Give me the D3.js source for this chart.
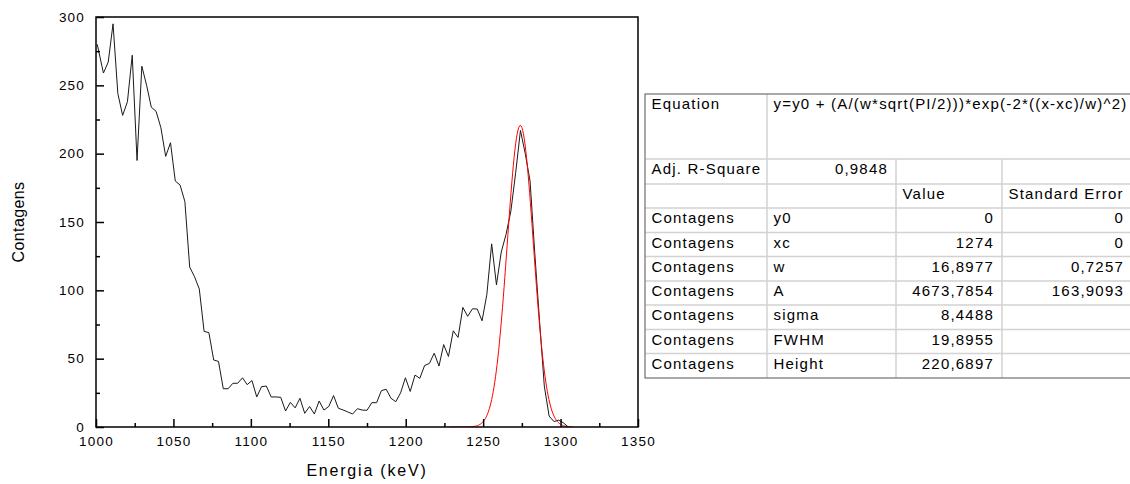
<!DOCTYPE html>
<html>
<head>
<meta charset="utf-8">
<script src="https://cdn.jsdelivr.net/npm/d3@7"></script>
<style>
  html, body { margin: 0; padding: 0; background: #fff; }
  svg { display: block; font-family: "Liberation Sans", Arial, sans-serif; }
</style>
</head>
<body>
<svg id="chart" width="1130" height="484"></svg>
<script>
// Gamma spectrum around the 1274 keV line, with its Gaussian fit
const energies = [
  1000.8, 1004.8, 1007.9, 1011.0, 1014.1, 1017.2, 1020.3, 1023.4, 1026.5, 1029.6,
  1032.7, 1035.7, 1038.8, 1041.9, 1045.0, 1048.1, 1051.2, 1054.3, 1057.4, 1060.5,
  1063.6, 1066.7, 1069.8, 1072.9, 1076.0, 1079.1, 1082.2, 1085.3, 1088.4, 1091.5,
  1094.6, 1097.6, 1100.7, 1103.8, 1106.9, 1110.0, 1113.1, 1116.2, 1119.3, 1122.4,
  1125.5, 1128.6, 1131.7, 1134.8, 1137.9, 1141.0, 1144.1, 1147.2, 1150.3, 1153.4,
  1156.5, 1159.5, 1162.6, 1165.7, 1168.8, 1171.9, 1175.0, 1178.1, 1181.2, 1184.3,
  1187.4, 1190.5, 1193.6, 1196.7, 1199.8, 1202.9, 1206.0, 1209.1, 1212.2, 1215.3,
  1218.4, 1221.5, 1224.5, 1227.6, 1230.7, 1233.8, 1236.9, 1240.0, 1243.1, 1246.2,
  1249.3, 1252.4, 1255.5, 1258.6, 1261.7, 1264.8, 1267.9, 1271.0, 1274.1, 1277.2,
  1280.3, 1283.3, 1286.4, 1289.5, 1292.6, 1295.7, 1298.8, 1301.9, 1305.0
];
const counts = [
  280, 259, 267, 295, 244, 228, 238, 272, 195, 264,
  250, 234, 231, 219, 198, 208, 180, 177, 165, 117,
  110, 101, 70, 69, 49, 48, 28, 28, 32, 32,
  36, 31, 34, 22, 29.5, 30, 22, 22, 21.7, 11.7,
  18, 14, 21, 10, 15, 9.5, 19, 12.4, 15, 23,
  13.7, 12.5, 11, 9.5, 13.4, 12.4, 12.2, 17.8, 17.8, 26.6,
  27.6, 21, 18.5, 25, 36, 26, 38, 35.6, 45, 46.5,
  54, 44.6, 60.3, 51.6, 70.4, 65.5, 87.5, 81, 86.5, 86.3,
  77.7, 97, 134, 104, 128, 141, 158, 186, 217, 200,
  180, 128, 78, 30, 8, 4, 5, 3, 0
];

const xTicks = [1000, 1050, 1100, 1150, 1200, 1250, 1300, 1350];
const xMinorTicks = [1025, 1075, 1125, 1175, 1225, 1275, 1325];
const yTicks = [0, 50, 100, 150, 200, 250, 300];
const yMinorTicks = [25, 75, 125, 175, 225, 275];

// Fit results
const fitEquation = "y=y0 + (A/(w*sqrt(PI/2)))*exp(-2*((x-xc)/w)^2)";
const adjR2 = 0.9848;
const fitDataset = "Contagens";
const fitParams = ["y0", "xc", "w", "A", "sigma", "FWHM", "Height"];
const fitValues = [0, 1274, 16.8977, 4673.7854, 8.4488, 19.8955, 220.6897];
const fitErrors = [0, 0, 0.7257, 163.9093, null, null, null];
const fitRange = [1228, 1308];

const svg = d3.select("#chart");
const W = 1130, H = 484;
const plot = { left: 96, right: 638, top: 17, bottom: 427 };

svg.append("rect").attr("width", W).attr("height", H).attr("fill", "#fff");

const x = d3.scaleLinear().domain([1000, 1350]).range([plot.left, plot.right]);
const y = d3.scaleLinear().domain([0, 300]).range([plot.bottom, plot.top]);

svg.append("defs").append("clipPath").attr("id", "plotClip")
  .append("rect")
  .attr("x", plot.left).attr("y", plot.top)
  .attr("width", plot.right - plot.left).attr("height", plot.bottom - plot.top);

// Spectrum
const spectrum = energies.map((e, i) => [e, counts[i]]);
const line = d3.line().x(d => x(d[0])).y(d => y(d[1]));

svg.append("path")
  .datum(spectrum)
  .attr("clip-path", "url(#plotClip)")
  .attr("fill", "none")
  .attr("stroke", "#1a1a1a")
  .attr("stroke-width", 1)
  .attr("stroke-linejoin", "round")
  .attr("d", line);

// Gaussian fit curve from the fitted parameters
const pv = name => fitValues[fitParams.indexOf(name)];
const y0 = pv("y0"), xc = pv("xc"), w = pv("w"), A = pv("A");
const gauss = e => y0 + (A / (w * Math.sqrt(Math.PI / 2))) * Math.exp(-2 * Math.pow((e - xc) / w, 2));
const fitCurve = d3.range(fitRange[0], fitRange[1] + 0.01, 0.5).map(e => [e, gauss(e)]);

svg.append("path")
  .datum(fitCurve)
  .attr("clip-path", "url(#plotClip)")
  .attr("fill", "none")
  .attr("stroke", "#ff0000")
  .attr("stroke-width", 1)
  .attr("d", line);

// Axes (ticks point inward)
const tickFont = g => g.selectAll("text")
  .attr("font-size", 13.5)
  .attr("letter-spacing", "1.2px")
  .attr("fill", "#000");

const gx = svg.append("g").attr("transform", `translate(0,${plot.bottom})`)
  .call(d3.axisBottom(x).tickValues(xTicks).tickSize(-8).tickSizeOuter(0).tickPadding(9).tickFormat(d3.format("d")));
gx.call(tickFont);
svg.append("g").attr("transform", `translate(0,${plot.bottom})`)
  .call(d3.axisBottom(x).tickValues(xMinorTicks).tickSize(-4).tickSizeOuter(0).tickFormat(""))
  .call(g => g.select(".domain").remove());

const gy = svg.append("g").attr("transform", `translate(${plot.left},0)`)
  .call(d3.axisLeft(y).tickValues(yTicks).tickSize(-8).tickSizeOuter(0).tickPadding(11).tickFormat(d3.format("d")));
gy.call(tickFont);
svg.append("g").attr("transform", `translate(${plot.left},0)`)
  .call(d3.axisLeft(y).tickValues(yMinorTicks).tickSize(-4).tickSizeOuter(0).tickFormat(""))
  .call(g => g.select(".domain").remove());

svg.selectAll(".tick line").attr("stroke", "#000").attr("stroke-width", 1.5);
svg.selectAll(".domain").attr("stroke", "none");
svg.selectAll("g text").attr("font-family", "Liberation Sans, Arial, sans-serif");

// Frame
svg.append("rect")
  .attr("x", plot.left).attr("y", plot.top)
  .attr("width", plot.right - plot.left).attr("height", plot.bottom - plot.top)
  .attr("fill", "none").attr("stroke", "#000").attr("stroke-width", 1.5);

// Axis titles
svg.append("text")
  .attr("x", (plot.left + plot.right) / 2).attr("y", 476)
  .attr("text-anchor", "middle")
  .attr("font-size", 16).attr("letter-spacing", "1.8px")
  .text("Energia (keV)");

svg.append("text")
  .attr("transform", `translate(24,${(plot.top + plot.bottom) / 2}) rotate(-90)`)
  .attr("text-anchor", "middle")
  .attr("font-size", 16).attr("letter-spacing", "0.4px")
  .text("Contagens");

// Fit results table
const fmt = v => v == null ? "" : String(v).replace(".", ",");
const colX = [645, 767, 896, 1002, 1132];
const rowY = [94, 159, 184, 208, 232.5, 256.5, 281, 305, 329.5, 353.5, 378];
const table = svg.append("g").attr("font-size", 15).attr("letter-spacing", "1.2px").attr("fill", "#000");
const gridColor = "#d2d2d2";

// inner grid
for (let r = 1; r < rowY.length - 1; r++) {
  table.append("line")
    .attr("x1", colX[0]).attr("x2", colX[4]).attr("y1", rowY[r]).attr("y2", rowY[r])
    .attr("stroke", gridColor).attr("stroke-width", 1.5);
}
table.append("line").attr("x1", colX[1]).attr("x2", colX[1]).attr("y1", rowY[0]).attr("y2", rowY[rowY.length - 1])
  .attr("stroke", gridColor).attr("stroke-width", 1.5);
[colX[2], colX[3]].forEach(cx => {
  table.append("line").attr("x1", cx).attr("x2", cx).attr("y1", rowY[1]).attr("y2", rowY[rowY.length - 1])
    .attr("stroke", gridColor).attr("stroke-width", 1.5);
});
// outer border
table.append("rect")
  .attr("x", colX[0]).attr("y", rowY[0])
  .attr("width", colX[4] - colX[0]).attr("height", rowY[rowY.length - 1] - rowY[0])
  .attr("fill", "none").attr("stroke", "#7a7a7a").attr("stroke-width", 1.3);

const pad = 6.5, padR = 8;
const cell = (txt, col, row, align) => {
  const t = table.append("text").attr("y", rowY[row] + 15).text(txt);
  if (align === "right") t.attr("x", colX[col + 1] - padR).attr("text-anchor", "end");
  else t.attr("x", colX[col] + pad);
  return t;
};

cell("Equation", 0, 0);
cell(fitEquation, 1, 0);
cell("Adj. R-Square", 0, 1);
cell(fmt(adjR2), 1, 1, "right");
cell("Value", 2, 2);
cell("Standard Error", 3, 2);
fitParams.forEach((p, i) => {
  const row = 3 + i;
  cell(fitDataset, 0, row);
  cell(p, 1, row);
  cell(fmt(fitValues[i]), 2, row, "right");
  if (fitErrors[i] != null) cell(fmt(fitErrors[i]), 3, row, "right");
});
</script>
</body>
</html>
